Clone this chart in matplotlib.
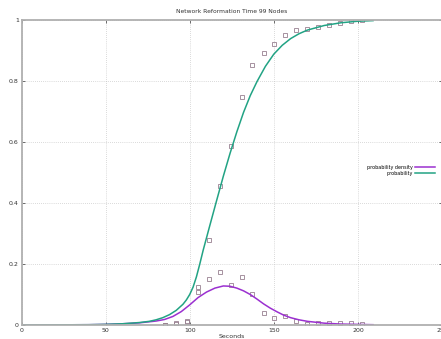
import matplotlib
matplotlib.use("Agg")
import matplotlib.pyplot as plt
from matplotlib.ticker import FuncFormatter
from matplotlib.lines import Line2D

# fitted curves
cdf_x = [0, 40, 50, 60, 70, 76, 80, 84, 88, 92, 96, 98, 100, 102, 104, 106, 108,
         112, 116, 120, 124, 128, 132, 136, 140, 145, 150, 155, 160, 165, 170,
         180, 190, 200, 209]
cdf_y = [0.0, 0.001, 0.002, 0.004, 0.008, 0.012, 0.017, 0.024, 0.034, 0.048,
         0.068, 0.082, 0.100, 0.124, 0.158, 0.200, 0.245, 0.327, 0.408, 0.488,
         0.563, 0.633, 0.697, 0.752, 0.798, 0.848, 0.888, 0.917, 0.939, 0.955,
         0.967, 0.982, 0.991, 0.996, 0.998]

dens_x = [0, 40, 50, 60, 70, 80, 85, 90, 95, 100, 105, 110, 115, 120, 124, 128,
          132, 136, 140, 144, 148, 152, 156, 160, 165, 170, 175, 180, 190, 200, 209]
dens_y = [0.0, 0.001, 0.002, 0.004, 0.007, 0.013, 0.018, 0.028, 0.044, 0.066,
          0.090, 0.108, 0.121, 0.128, 0.127, 0.121, 0.112, 0.100, 0.085, 0.069,
          0.055, 0.043, 0.032, 0.024, 0.017, 0.012, 0.009, 0.006, 0.003, 0.002, 0.001]

# measured points per bin
bin_x = [85.2, 91.7, 98.2, 104.8, 111.3, 117.8, 124.3, 130.8, 137.3, 143.9,
         150.4, 156.9, 163.4, 169.9, 176.4, 182.9, 189.4, 196.0, 202.5]
cdf_pts = [0.001, 0.005, 0.014, 0.126, 0.279, 0.456, 0.588, 0.749, 0.852, 0.893,
           0.920, 0.952, 0.967, 0.971, 0.976, 0.984, 0.990, 0.996, 1.0]
dens_pts = [0.001, 0.004, 0.009, 0.107, 0.151, 0.174, 0.132, 0.158, 0.103, 0.038,
            0.024, 0.030, 0.014, 0.004, 0.005, 0.008, 0.006, 0.006, 0.004]

purple = "#9b30d0"
green = "#22a384"
pt_col = "#988090"

fig = plt.figure(figsize=(4.41, 3.39), dpi=100)
ax = fig.add_axes([21.5 / 441, 14 / 339, 420.5 / 441, 305 / 339])

ax.plot(bin_x, cdf_pts, ls="none", marker="s", ms=2.2, mfc="none", mew=0.6, color=pt_col)
ax.plot(bin_x, dens_pts, ls="none", marker="s", ms=2.2, mfc="none", mew=0.6, color=pt_col)
ax.plot(dens_x, dens_y, color=purple, lw=1.1)
ax.plot(cdf_x, cdf_y, color=green, lw=1.1)

ax.set_xlim(0, 250)
ax.set_ylim(0, 1)
ax.set_xticks([0, 50, 100, 150, 200, 250])
ax.set_yticks([0, 0.2, 0.4, 0.6, 0.8, 1])
fmt = FuncFormatter(lambda v, p: "%g" % v)
ax.xaxis.set_major_formatter(fmt)
ax.yaxis.set_major_formatter(fmt)
ax.tick_params(direction="in", length=2.5, width=0.6, color="#555555",
               labelsize=4.5, labelcolor="#333333", pad=2, top=True, right=True)
ax.grid(True, ls=(0, (1, 2)), lw=0.5, color="#b8b8b8")
for s in ax.spines.values():
    s.set_color("#b0b0b0")
    s.set_linewidth(1.3)

ax.set_title("Network Reformation Time 99 Nodes", fontsize=4.3, color="#333333", pad=5)
ax.set_xlabel("Seconds", fontsize=4.5, color="#333333", labelpad=1)

handles = [Line2D([], [], color=purple, lw=1.1), Line2D([], [], color=green, lw=1.1)]
ax.legend(handles, ["probability density", "probability"], loc="upper right",
          bbox_to_anchor=(0.983, 0.525), markerfirst=False, frameon=False,
          fontsize=3.5, handlelength=4, handletextpad=0.6, labelspacing=0.25,
          borderpad=0, borderaxespad=0)

fig.savefig("out.png", dpi=100)
